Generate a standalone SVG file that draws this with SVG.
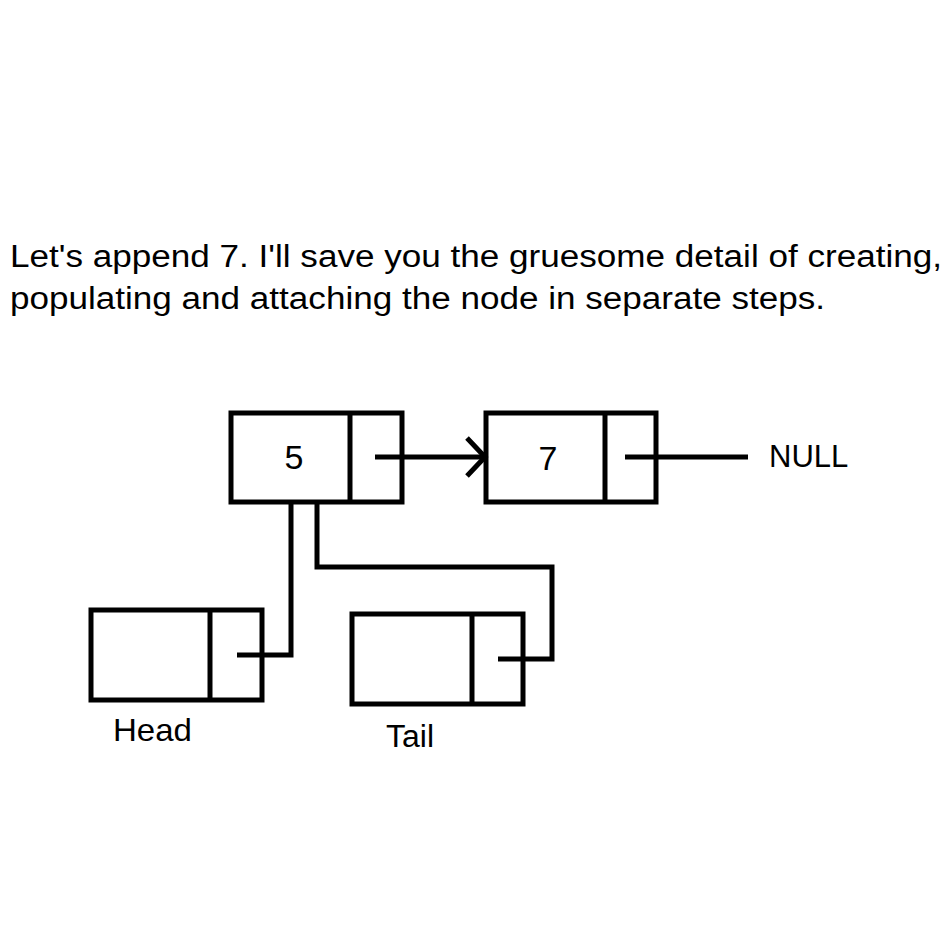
<svg xmlns="http://www.w3.org/2000/svg" width="950" height="950" viewBox="0 0 950 950">
<style>
.box{fill:#fff;stroke:#000;stroke-width:5}
.ln{fill:none;stroke:#000;stroke-width:5}
.t{font-family:"Liberation Sans",Arial,sans-serif;fill:#000}
</style>
<rect width="950" height="950" fill="#fff"/>
<g id="caption">
<text class="t" x="10" y="267" font-size="31" textLength="932" lengthAdjust="spacingAndGlyphs">Let's append 7. I'll save you the gruesome detail of creating,</text>
<text class="t" x="10" y="309" font-size="31" textLength="815" lengthAdjust="spacingAndGlyphs">populating and attaching the node in separate steps.</text>
</g>
<g id="node5">
<rect class="box" x="231" y="413" width="171" height="89"/>
<line class="ln" x1="350" y1="413" x2="350" y2="502"/>
<text class="t" x="294" y="469" font-size="34" text-anchor="middle">5</text>
</g>
<g id="node7">
<rect class="box" x="486" y="413" width="170" height="89"/>
<line class="ln" x1="605" y1="413" x2="605" y2="502"/>
<text class="t" x="548" y="470" font-size="34" text-anchor="middle">7</text>
</g>
<g id="null">
<text class="t" x="769" y="467" font-size="31">NULL</text>
</g>
<g id="head">
<rect class="box" x="91" y="610" width="171" height="90"/>
<line class="ln" x1="210" y1="610" x2="210" y2="700"/>
<text class="t" x="113" y="741" font-size="32" textLength="79" lengthAdjust="spacingAndGlyphs">Head</text>
</g>
<g id="tail">
<rect class="box" x="352" y="614" width="171" height="90"/>
<line class="ln" x1="472" y1="614" x2="472" y2="704"/>
<text class="t" x="386" y="747" font-size="31" textLength="48" lengthAdjust="spacingAndGlyphs">Tail</text>
</g>
<g id="connectors">
<line class="ln" x1="375" y1="457" x2="484" y2="457"/>
<polyline class="ln" points="467,438 485,457 467,476"/>
<line class="ln" x1="625" y1="457" x2="748" y2="457"/>
<polyline class="ln" points="237,655 291,655 291,502"/>
<polyline class="ln" points="317,502 317,567 552,567 552,659 498,659"/>
</g>
</svg>
